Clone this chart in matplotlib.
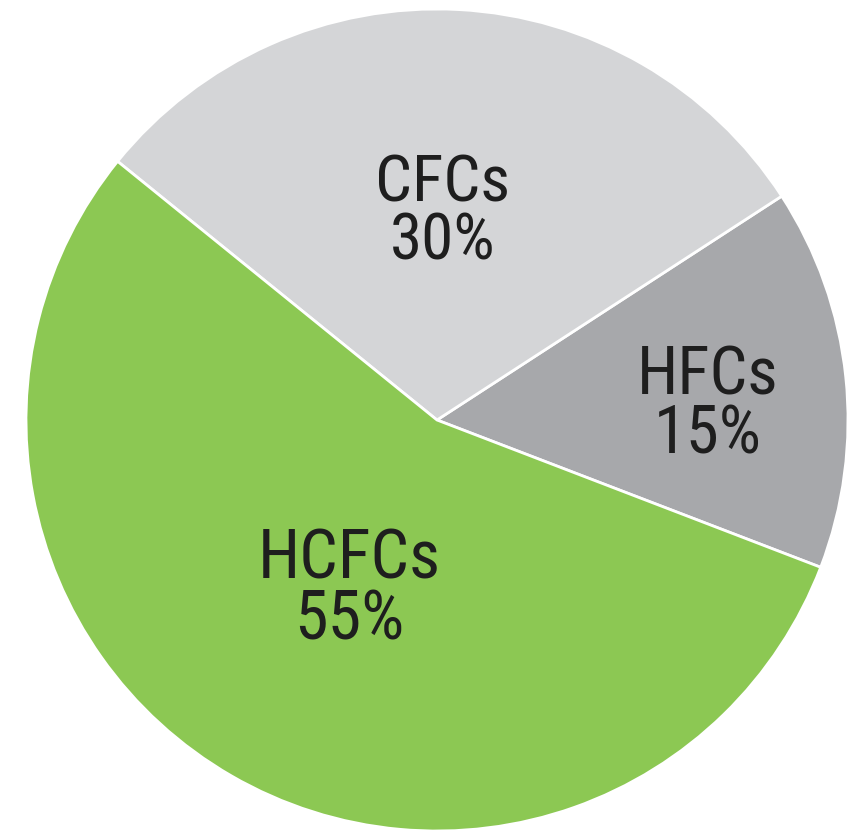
import numpy as np
import matplotlib.pyplot as plt

labels = ['HFCs', 'CFCs', 'HCFCs']
shares = [15, 30, 55]
colors = ['#a7a8ab', '#d4d5d7', '#8cc853']

# label placement: fraction of radius, angle tweak (deg), font size
label_dist = [0.66, 0.505, 0.465]
label_turn = [-3.0, 1.5, 2.8]
label_size = [48, 47, 49]

plt.rcParams['font.family'] = ['Roboto Condensed', 'DejaVu Sans']

fig = plt.figure(figsize=(8.55, 8.32), dpi=100)
ax = fig.add_axes([0, 0, 1, 1])

cx, cy, r = 437, 412, 411
wedges, _ = ax.pie(shares, colors=colors, startangle=-21, counterclock=True,
                   center=(cx, cy), radius=r, frame=True,
                   wedgeprops=dict(edgecolor='white', linewidth=2))
ax.set_xlim(0, 855)
ax.set_ylim(0, 832)
ax.set_aspect('equal')
ax.axis('off')

for w, lab, val, d, t, s in zip(wedges, labels, shares, label_dist, label_turn, label_size):
    ang = np.deg2rad((w.theta1 + w.theta2) / 2 + t)
    x = cx + d * r * np.cos(ang)
    y = cy + d * r * np.sin(ang)
    ax.text(x, y, f'{lab}\n{val}%', ha='center', va='center',
            fontsize=s, color='#1e1e1e', linespacing=0.9,
            fontstretch='condensed')

fig.savefig('out.png', dpi=100)
